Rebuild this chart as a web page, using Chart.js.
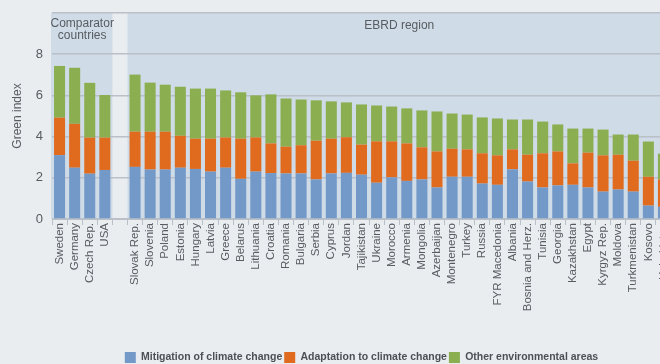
<!DOCTYPE html>
<html>
<head>
<meta charset="utf-8">
<script src="https://cdn.jsdelivr.net/npm/chart.js@4.4.1/dist/chart.umd.min.js"></script>
<style>
  html, body { margin: 0; padding: 0; background: #e9edf0; overflow: hidden; }
  #wrap { width: 680px; height: 364px; }
</style>
</head>
<body>
<div id="wrap"><canvas id="greenChart" width="680" height="364"></canvas></div>
<script>
// countries; the empty slot separates the comparators from the EBRD region
var countries = ["Sweden", "Germany", "Czech Rep.", "USA", "",
    "Slovak Rep.", "Slovenia", "Poland", "Estonia", "Hungary", "Latvia", "Greece", "Belarus",
    "Lithuania", "Croatia", "Romania", "Bulgaria", "Serbia", "Cyprus", "Jordan", "Tajikistan",
    "Ukraine", "Morocco", "Armenia", "Mongolia", "Azerbaijan", "Montenegro", "Turkey", "Russia",
    "FYR Macedonia", "Albania", "Bosnia and Herz.", "Tunisia", "Georgia", "Kazakhstan", "Egypt",
    "Kyrgyz Rep.", "Moldova", "Turkmenistan", "Kosovo", "Uzbekistan"];

var mitigation = [3.10, 2.49, 2.20, 2.38, null,
    2.53, 2.40, 2.40, 2.49, 2.43, 2.30, 2.49, 1.95,
    2.30, 2.23, 2.21, 2.21, 1.92, 2.21, 2.24, 2.15,
    1.76, 2.02, 1.85, 1.92, 1.53, 2.05, 2.05, 1.72,
    1.66, 2.41, 1.82, 1.53, 1.63, 1.66, 1.53,
    1.33, 1.43, 1.33, 0.65, 0.59];

var adaptation = [1.82, 2.13, 1.75, 1.57, null,
    1.71, 1.84, 1.84, 1.55, 1.47, 1.60, 1.47, 1.95,
    1.66, 1.44, 1.30, 1.37, 1.88, 1.69, 1.73, 1.46,
    2.01, 1.75, 1.82, 1.56, 1.75, 1.36, 1.33, 1.47,
    1.43, 0.97, 1.30, 1.66, 1.65, 1.04, 1.69,
    1.76, 1.69, 1.50, 1.40, 1.33];

var otherAreas = [2.51, 2.72, 2.66, 2.07, null,
    2.77, 2.38, 2.28, 2.38, 2.43, 2.43, 2.28, 2.25,
    2.04, 2.38, 2.34, 2.22, 1.96, 1.81, 1.69, 1.95,
    1.74, 1.69, 1.70, 1.79, 1.94, 1.71, 1.69, 1.74,
    1.79, 1.45, 1.71, 1.54, 1.31, 1.69, 1.17,
    1.25, 0.98, 1.27, 1.71, 1.25];

var yTicks = [0, 2, 4, 6, 8];

var FONT = "'Liberation Sans', Arial, sans-serif";
var TEXT = "#575c61";
var GRID = "#b9c0c8";

// shaded group panels behind the bars
var panelPlugin = {
    id: "panels",
    beforeDraw: function (chart) {
        var ctx = chart.ctx;
        var x = chart.scales.x;
        var area = chart.chartArea;
        var step = x.getPixelForValue(1) - x.getPixelForValue(0);
        var edge = function (i) { return x.getPixelForValue(i) - step / 2; };

        ctx.save();
        ctx.fillStyle = "#e9edf0";
        ctx.fillRect(0, 0, chart.width, chart.height);

        ctx.fillStyle = "#cfdbe6";
        ctx.fillRect(edge(0) - 1, area.top, edge(4) - edge(0) + 1, area.bottom - area.top);
        ctx.fillRect(edge(5), area.top, chart.width - edge(5), area.bottom - area.top);

        ctx.fillStyle = TEXT;
        ctx.font = "12px " + FONT;
        ctx.textAlign = "center";
        ctx.textBaseline = "middle";
        var cx = (edge(0) + edge(4)) / 2;
        ctx.fillText("Comparator", cx, area.top + 11);
        ctx.fillText("countries", cx, area.top + 23);
        ctx.fillText("EBRD region", (edge(5) + edge(countries.length)) / 2, area.top + 12.5);
        ctx.restore();
    }
};

function initChart() {
    var ctx = document.getElementById("greenChart").getContext("2d");
    new Chart(ctx, {
        type: "bar",
        data: {
            labels: countries,
            datasets: [
                { label: "Mitigation of climate change", data: mitigation, backgroundColor: "#7399c9" },
                { label: "Adaptation to climate change", data: adaptation, backgroundColor: "#e06b1e" },
                { label: "Other environmental areas", data: otherAreas, backgroundColor: "#8aae50" }
            ]
        },
        options: {
            responsive: false,
            animation: false,
            barPercentage: 0.73,
            categoryPercentage: 1,
            // the legend sits right on the bottom edge
            layout: { padding: { top: 13, right: 9, left: 0, bottom: -9 } },
            plugins: {
                tooltip: { enabled: false },
                legend: {
                    position: "bottom",
                    fullSize: false,
                    labels: {
                        boxWidth: 11,
                        boxHeight: 11,
                        padding: 2,
                        color: "#4d5156",
                        font: { family: FONT, size: 10.5, weight: "bold" }
                    }
                }
            },
            scales: {
                x: {
                    stacked: true,
                    afterFit: function (s) {
                        s.height = 131;
                        s.paddingLeft = 0;
                        s.paddingRight = 0;
                    },
                    grid: { display: true, drawOnChartArea: false, tickLength: 6, color: GRID, offset: true },
                    border: { display: true, color: GRID },
                    ticks: {
                        autoSkip: false,
                        maxRotation: 90,
                        minRotation: 90,
                        padding: -2,
                        color: TEXT,
                        font: { family: FONT, size: 11.5 }
                    }
                },
                y: {
                    stacked: true,
                    min: 0,
                    max: 10,
                    afterFit: function (s) {
                        s.width = 52;
                        s.paddingTop = 0;
                        s.paddingBottom = 0;
                    },
                    afterBuildTicks: function (s) {
                        s.ticks = yTicks.concat([10]).map(function (v) { return { value: v }; });
                    },
                    grid: { color: GRID, drawTicks: false, lineWidth: 1.5 },
                    border: { display: false },
                    title: {
                        display: true,
                        text: "Green index",
                        color: TEXT,
                        padding: { top: 10, bottom: 0 },
                        font: { family: FONT, size: 12 }
                    },
                    ticks: {
                        padding: 9,
                        color: TEXT,
                        font: { family: FONT, size: 13 },
                        callback: function (value) { return yTicks.indexOf(value) >= 0 ? value : ""; }
                    }
                }
            }
        },
        plugins: [panelPlugin]
    });
}
initChart();
</script>
</body>
</html>
